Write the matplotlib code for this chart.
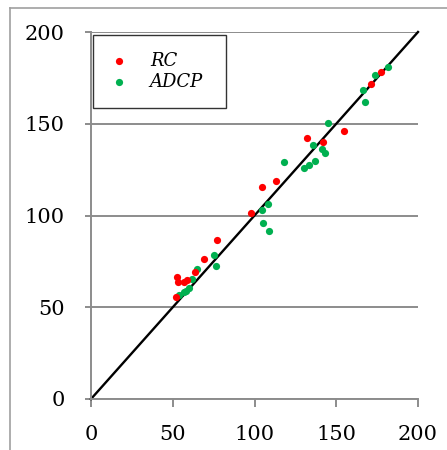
import matplotlib
matplotlib.use("Agg")
import matplotlib.pyplot as plt
from matplotlib.lines import Line2D

rc_x = [76.9, 68.9, 63.7, 58.8, 57.1, 52.7, 53.3, 51.9, 98.1, 104.8, 113.1, 131.9, 142.1, 154.5, 171.0, 177.2]
rc_y = [86.7, 76.1, 69.0, 64.9, 63.5, 66.5, 63.5, 55.7, 101.5, 115.5, 119.0, 142.1, 140.1, 146.0, 171.5, 178.0]

adcp_x = [75.0, 76.7, 65.0, 61.7, 60.0, 58.3, 57.1, 54.0, 104.8, 105.2, 108.3, 108.7, 118.2, 130.3, 133.1,
          137.2, 135.8, 141.5, 142.9, 145.2, 166.6, 167.8, 173.5, 181.4]
adcp_y = [78.6, 72.5, 71.0, 65.3, 60.6, 58.9, 58.3, 56.5, 102.8, 95.9, 106.3, 91.6, 129.3, 125.9, 127.3,
          129.9, 138.4, 136.4, 134.1, 150.4, 168.2, 161.9, 176.7, 181.1]

line_x = [0, 200]
line_y = [0, 200]
ticks = [0, 50, 100, 150, 200]

plt.rcParams['font.family'] = ['DejaVu Serif']

fig = plt.figure(figsize=(4.47, 4.50), dpi=100)
ax = fig.add_axes([91 / 447, 1 - 399 / 450, 327 / 447, 367 / 450])

grid_c = '#8c8c8c'
ax.set_xlim(0, 200)
ax.set_ylim(0, 200)
ax.set_xticks(ticks)
ax.set_yticks(ticks)
ax.yaxis.grid(True, color=grid_c, lw=1.4)
ax.set_axisbelow(True)
for s in ['top', 'right']:
    ax.spines[s].set_visible(False)
for s in ['left', 'bottom']:
    ax.spines[s].set_color(grid_c)
    ax.spines[s].set_linewidth(1.4)
ax.tick_params(axis='y', length=4, width=1.4, color=grid_c, pad=15, labelsize=15)
ax.tick_params(axis='x', length=6, width=1.4, color=grid_c, pad=13, labelsize=15)

ax.plot(line_x, line_y, color='black', lw=1.7, zorder=2, clip_on=False)
h_adcp = ax.scatter(adcp_x, adcp_y, s=27, color='#00b050', linewidths=0, zorder=3, label='ADCP')
h_rc = ax.scatter(rc_x, rc_y, s=27, color='#ff0000', linewidths=0, zorder=4, label='RC')

leg = ax.legend(handles=[h_rc, h_adcp], loc='upper left', bbox_to_anchor=(0.006, 0.796, 0.407, 0.196),
                mode='expand', borderaxespad=0, frameon=True, fancybox=False, edgecolor='black',
                prop={'family': 'DejaVu Serif', 'style': 'italic', 'size': 13},
                handlelength=1.0, handletextpad=1.2, borderpad=0.95, labelspacing=0.15,
                scatterpoints=1, markerscale=1.0)
leg.get_frame().set_linewidth(1.0)

fig.add_artist(Line2D([10 / 447, 10 / 447], [0, 1 - 8 / 450], color='#a0a0a0', lw=1.2))
fig.add_artist(Line2D([10 / 447, 1], [1 - 8 / 450, 1 - 8 / 450], color='#a0a0a0', lw=1.2))

fig.savefig('out.png', dpi=100)
